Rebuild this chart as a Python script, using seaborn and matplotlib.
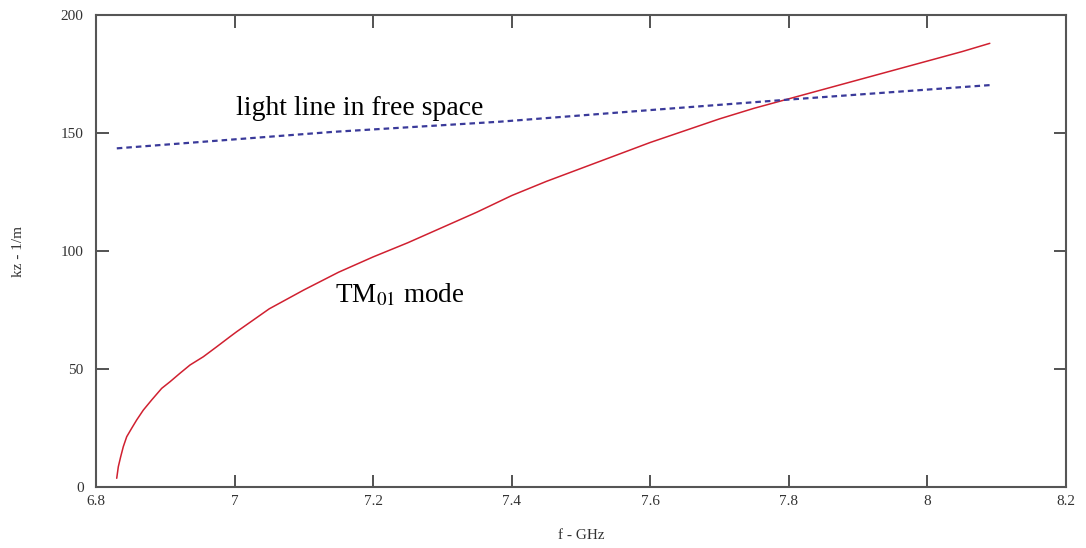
import numpy as np
import pandas as pd
import matplotlib
matplotlib.use("Agg")
import matplotlib.pyplot as plt
import seaborn as sns

sns.set_theme(style="white")
plt.rcParams['font.family'] = ['Liberation Serif', 'DejaVu Serif']
plt.rcParams['mathtext.fontset'] = 'stix'

# TM01 mode dispersion curve
tm_f = [6.8299, 6.8322, 6.8356, 6.8394, 6.8443, 6.8515, 6.8587, 6.8683, 6.8804,
        6.8948, 6.9068, 6.9212, 6.9357, 6.9549, 6.9741, 6.9934, 7.003,
        7.05, 7.10, 7.15, 7.20, 7.25, 7.30, 7.35, 7.40, 7.45, 7.50, 7.55,
        7.60, 7.65, 7.70, 7.75, 7.80, 7.85, 7.90, 7.95, 8.00, 8.05, 8.09]
tm_kz = [3.7, 8.6, 12.8, 17.1, 21.3, 24.9, 28.4, 32.6, 36.9,
         41.8, 44.6, 48.2, 51.7, 55.2, 59.4, 63.7, 65.8,
         75.5, 83.5, 91.0, 97.5, 103.5, 110.0, 116.5, 123.5, 129.5, 135.0, 140.5,
         146.0, 151.0, 156.0, 160.5, 164.5, 168.5, 172.5, 176.5, 180.5, 184.5, 188.0]

# light line in free space
ll_f = [6.830, 6.955, 7.143, 7.383, 7.599, 7.806, 8.090]
ll_kz = [143.5, 146.3, 150.5, 154.8, 159.7, 164.3, 170.3]

xticks = [6.8, 7, 7.2, 7.4, 7.6, 7.8, 8, 8.2]
xtick_labels = ['6.8', '7', '7.2', '7.4', '7.6', '7.8', '8', '8.2']
yticks = [0, 50, 100, 150, 200]

tm = pd.DataFrame({'f': tm_f, 'kz': tm_kz})
ll = pd.DataFrame({'f': ll_f, 'kz': ll_kz})

fig = plt.figure(figsize=(10.86, 5.48), dpi=100)
ax = fig.add_axes([0.0884, 0.1113, 0.8932, 0.8613])

sns.lineplot(data=tm, x='f', y='kz', ax=ax, color='#d02030', lw=1.1,
             sort=False, estimator=None)
sns.lineplot(data=ll, x='f', y='kz', ax=ax, color='#3a3a9a', lw=1.6,
             sort=False, estimator=None, linestyle=(0, (2.5, 1.8)))

ax.set_xlim(6.8, 8.2)
ax.set_ylim(0, 200)
ax.set_xticks(xticks)
ax.set_xticklabels(xtick_labels)
ax.set_yticks(yticks)
ax.tick_params(direction='in', length=9, width=1.3, color='#444444',
               bottom=True, left=True, top=True, right=True,
               labelsize=11, labelcolor='#333333')
ax.tick_params(axis='x', pad=6)
ax.tick_params(axis='y', pad=9)
for s in ax.spines.values():
    s.set_color('#555555')
    s.set_linewidth(1.5)

ax.set_xlabel('f - GHz', fontsize=11, color='#333333', labelpad=15)
ax.set_ylabel('kz - 1/m', fontsize=11, color='#333333', labelpad=26)

ax.text(7.002, 157.6, 'light line in free space', fontsize=20, color='black',
        va='baseline', ha='left')
ax.text(7.145, 78.3, r'TM$_{01}$ mode', fontsize=19.5, color='black',
        va='baseline', ha='left')

fig.savefig('out.png', dpi=100)
